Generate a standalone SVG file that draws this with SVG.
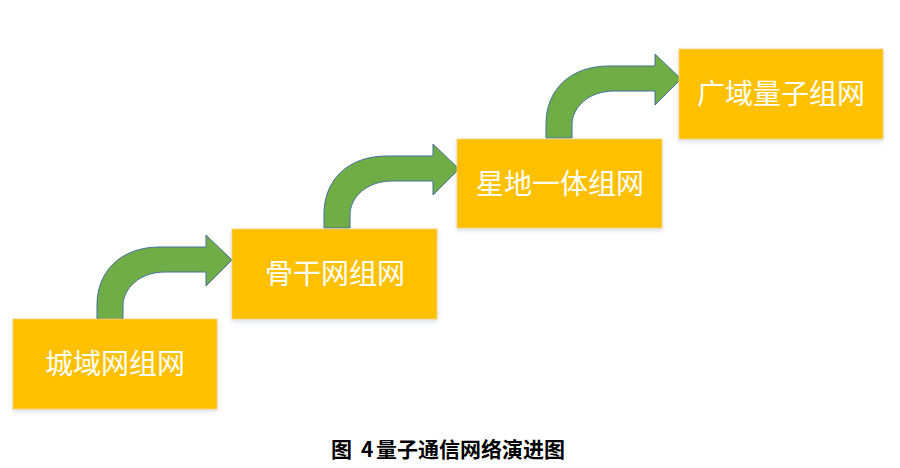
<svg xmlns="http://www.w3.org/2000/svg" width="900" height="468" viewBox="0 0 900 468">
<defs>
<filter id="sh" x="-10%" y="-10%" width="120%" height="130%">
<feDropShadow dx="0" dy="2" stdDeviation="2" flood-color="#5b6f8f" flood-opacity="0.25"/>
</filter>
<path id="arr" d="M97,319 L97,305 C97,272 120,247 160,247 L206,247 L206,235 L232,260 L206,286 L206,272 L165,272 C140,272 123,288 123,306 L123,319 Z"/>
</defs>
<style>
.box{fill:#FFC000;stroke:#f3d27a;stroke-width:0.8;filter:url(#sh)}
.lbl{fill:#ffffff;font-family:"Noto Sans CJK SC","Noto Sans",sans-serif;font-size:28px;text-anchor:middle}
.arrow{fill:#70AD47;stroke:#41719C;stroke-width:1}
.cap{fill:#000000;font-family:"Noto Sans CJK SC","Noto Sans",sans-serif;font-size:21px;font-weight:bold}
</style>
<rect width="900" height="468" fill="#ffffff"/>
<g id="connectors">
<use href="#arr" class="arrow"/>
<use href="#arr" class="arrow" transform="translate(227,-91)"/>
<use href="#arr" class="arrow" transform="translate(449,-181)"/>
</g>
<g id="node1">
<rect class="box" x="13" y="319" width="204" height="90"/>
<text class="lbl" x="115" y="374">城域网组网</text>
</g>
<g id="node2">
<rect class="box" x="232" y="229" width="205" height="90"/>
<text class="lbl" x="335" y="284">骨干网组网</text>
</g>
<g id="node3">
<rect class="box" x="457" y="139" width="205" height="89"/>
<text class="lbl" x="560" y="194">星地一体组网</text>
</g>
<g id="node4">
<rect class="box" x="679" y="49" width="204" height="90"/>
<text class="lbl" x="781" y="104">广域量子组网</text>
</g>
<text class="cap" y="457"><tspan x="331">图</tspan><tspan x="361">4</tspan><tspan x="376">量子通信网络演进图</tspan></text>
</svg>
